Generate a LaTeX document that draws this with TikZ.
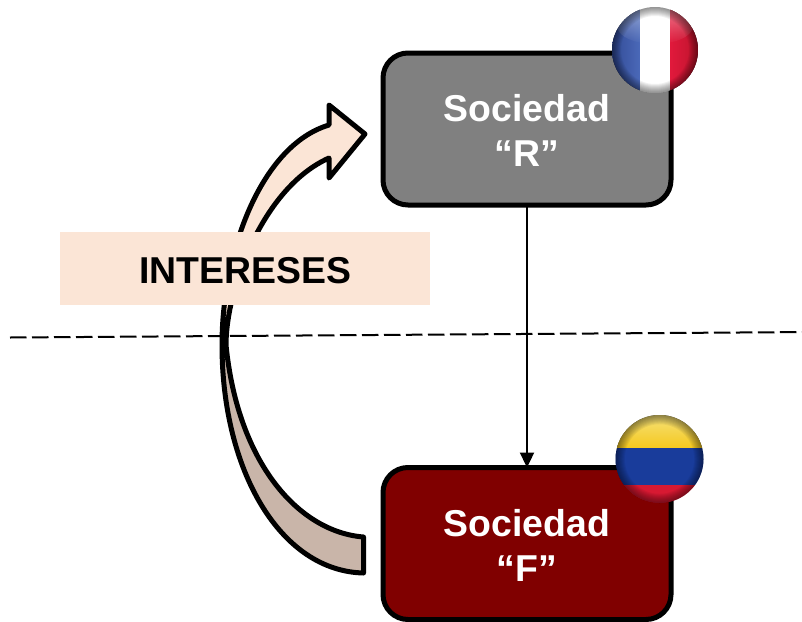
\documentclass[tikz,border=0pt]{standalone}
\usepackage{fontspec}
\setmainfont{Liberation Sans}
\usetikzlibrary{arrows.meta,fadings}
\definecolor{colblue}{RGB}{25,60,155}
\definecolor{colred}{RGB}{215,25,50}
\newcommand{\lowered}[2]{\raisebox{0pt}[\dimexpr\height+#1pt\relax]{#2}}
\newcommand{\globerim}[2]{%
  \foreach \w in {1,2,...,9}{\draw[black,draw opacity=0.055,line width=2*\w*#2 pt] (#1) circle (#2*43pt);}%
}
\tikzset{
  socbox/.style={draw=black,line width=5pt,rounded corners=25pt,minimum width=288pt,minimum height=152pt,
    inner sep=0pt,outer sep=0pt,align=center,text=white,font=\fontsize{37.4}{45}\selectfont\bfseries},
  curved/.style={draw=black,line width=5pt,line join=round},
  globe/.style={circle,minimum size=#1,inner sep=0pt,outer sep=0pt},
  glint/.style={fill=white,fill opacity=0.4,path fading=south}
}
\begin{document}
\begin{tikzpicture}[x=1pt,y=-1pt]
\useasboundingbox (0,0) rectangle (802,621);
% boxes
\node[socbox,fill=black!50] (R) at (527,129) {\lowered{3}{Sociedad}\\“R”};
\node[socbox,fill=red!50!black] (F) at (527,543.5) {\lowered{3}{Sociedad}\\“F”};
\coordinate (dashA) at (10,337.5);
\coordinate (dashB) at (812,332);
\draw[black,line width=2pt,dash pattern=on 16.5pt off 5.5pt] (dashA) -- (dashB);
\draw[black,line width=2.3pt,-{Triangle[length=15pt,width=14pt]}] (R.south) -- (F.north);
% curved arrow, two fills
\fill[fill={rgb,255:red,201;green,181;blue,169}]
  (363.5,537) .. controls (300,532) and (238,465) .. (226,345)
  -- (222,345) .. controls (222,470) and (280,571) .. (363.5,573) -- cycle;
\fill[fill={rgb,255:red,251;green,229;blue,214}]
  (226,345) .. controls (226,290) and (262,188) .. (329,158)
  -- (329,178) -- (365,134) -- (329,105) -- (329,125)
  .. controls (262,145) and (222,250) .. (222,345) -- cycle;
\draw[curved]
  (363.5,537) .. controls (300,532) and (238,465) .. (226,345)
  .. controls (226,290) and (262,188) .. (329,158)
  -- (329,178) -- (365,134) -- (329,105) -- (329,125)
  .. controls (262,145) and (222,250) .. (222,345)
  .. controls (222,470) and (280,571) .. (363.5,573) -- cycle;
% label
\node[fill={rgb,255:red,251;green,229;blue,214},minimum width=370pt,minimum height=73pt,inner sep=0pt,
  font=\fontsize{37.4}{45}\selectfont\bfseries,text=black] (I) at (245,268.5) {\lowered{4}{INTERESES}};
% French flag
\node[globe=86pt] (fr) at (655,50) {};
\begin{scope}
  \clip (fr) circle (43pt);
  \fill[left color={rgb,255:red,50;green,75;blue,150},right color={rgb,255:red,75;green,105;blue,185}] (612,7) rectangle (640,93);
  \fill[white] (640,7) rectangle (670,93);
  \fill[left color={rgb,255:red,225;green,25;blue,60},right color={rgb,255:red,190;green,20;blue,45}] (670,7) rectangle (698,93);
  \fill[glint] ([yshift=24pt]fr) ellipse (38pt and 18pt);
  \globerim{fr}{1}
\end{scope}
% Colombian flag
\node[globe=88pt] (co) at (659.5,459) {};
\begin{scope}
  \clip (co) circle (44pt);
  \fill[top color={rgb,255:red,245;green,225;blue,120},bottom color={rgb,255:red,245;green,200;blue,30}] (615,415) rectangle (704,448);
  \fill[colblue] (615,448) rectangle (704,485);
  \fill[colred] (615,485) rectangle (704,503);
  \globerim{co}{1.023}
\end{scope}
\end{tikzpicture}
\end{document}
